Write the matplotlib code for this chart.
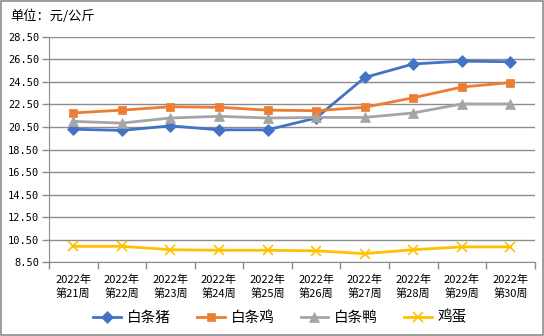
import matplotlib
matplotlib.use('Agg')
import matplotlib.pyplot as plt
from matplotlib.patches import Rectangle
import numpy as np

plt.rcParams['font.family'] = ['Noto Sans CJK SC', 'DejaVu Sans']

# weekly wholesale prices, yuan per kg
weeks = [f"2022年\n第{w}周" for w in range(21, 31)]
pork = [20.3, 20.2, 20.6, 20.25, 20.25, 21.3, 24.9, 26.1, 26.35, 26.3]
chicken = [21.75, 22.0, 22.3, 22.25, 22.0, 21.95, 22.25, 23.1, 24.05, 24.45]
duck = [21.0, 20.85, 21.3, 21.45, 21.3, 21.35, 21.35, 21.75, 22.55, 22.55]
eggs = [9.9, 9.9, 9.6, 9.55, 9.55, 9.5, 9.25, 9.6, 9.85, 9.85]

series = [
    ("白条猪", pork, "#4472C4", "D", 6.5),
    ("白条鸡", chicken, "#ED7D31", "s", 5.5),
    ("白条鸭", duck, "#A5A5A5", "^", 7.5),
    ("鸡蛋", eggs, "#FFC000", "x", 7),
]

fig = plt.figure(figsize=(5.44, 3.36), dpi=100)
ax = fig.add_axes([0.090, 0.220, 0.893, 0.670])

x = np.arange(len(weeks))
for name, vals, color, marker, ms in series:
    ax.plot(x, vals, color=color, lw=2.0, marker=marker, markersize=ms,
            markeredgewidth=1.2 if marker == "x" else 0.5,
            markeredgecolor=color, label=name)

ax.set_xlim(-0.5, len(weeks) - 0.5)
ax.set_ylim(8.5, 28.5)
yt = np.arange(8.5, 28.6, 2)
ax.set_yticks(yt)
ax.set_yticklabels([f"{v:.2f}" for v in yt], fontsize=7.5, family="DejaVu Sans Mono")
ax.yaxis.grid(True, color="#8c8c8c", lw=1)
ax.set_axisbelow(True)
ax.tick_params(axis="y", length=5, color="#8c8c8c", width=1, pad=2)

# category boundaries get the tick marks, labels sit between them
ax.set_xticks(np.arange(-0.5, len(weeks)), minor=False)
ax.set_xticklabels([])
ax.set_xticks(x, minor=True)
ax.set_xticklabels(weeks, minor=True, fontsize=8, linespacing=1.3)
ax.tick_params(axis="x", which="major", length=5, color="#8c8c8c", width=1)
ax.tick_params(axis="x", which="minor", length=0, pad=9)

for side in ["top", "right"]:
    ax.spines[side].set_visible(False)
ax.spines["left"].set_color("#8c8c8c")
ax.spines["bottom"].set_color("#8c8c8c")

fig.text(0.018, 0.952, "单位：元/公斤", fontsize=9.5, va="center", ha="left")

fig.legend(loc="center", bbox_to_anchor=(0.515, 0.055), ncol=4, frameon=False,
           fontsize=10.5, handlelength=1.9, columnspacing=1.8, handletextpad=0.4)

fig.patches.append(Rectangle((0.002, 0.004), 0.996, 0.992, transform=fig.transFigure,
                             fill=False, edgecolor="#8c8c8c", lw=1.2))

fig.savefig("out.png", dpi=100)
